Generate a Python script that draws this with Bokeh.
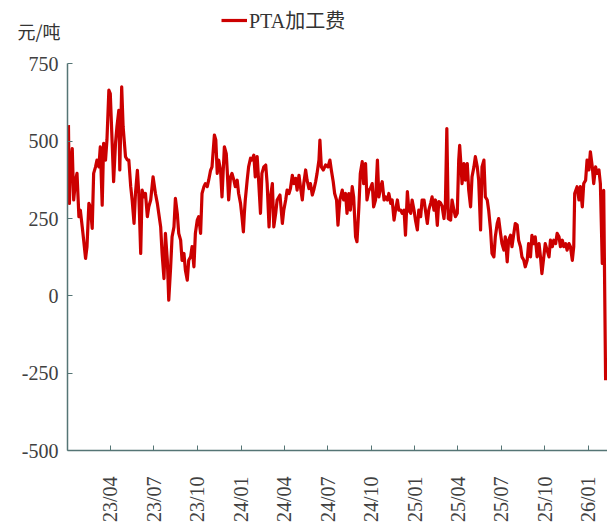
import math
import numpy as np
import pandas as pd
from bokeh.plotting import figure
from bokeh.models import (FixedTicker, DatetimeTickFormatter, Legend, LegendItem, Range1d,
                          LinearAxis)
from bokeh.embed import file_html
from bokeh.resources import INLINE

# ---------------- data ----------------
series_name = "PTA加工费"
unit_label = "元/吨"
start_date = "2023-01-03"

day_offsets = [
    0, 2, 4, 8, 11, 15, 18, 22, 25, 29, 32, 36, 39, 43, 46, 50, 53, 57, 60, 64,
    67, 71, 74, 78, 81, 85, 88, 92, 95, 99, 102, 106, 108, 112, 115, 120, 124, 127, 131, 134,
    138, 141, 145, 148, 152, 155, 159, 162, 166, 169, 173, 178, 183, 187, 190, 194, 197, 201, 204, 208,
    211, 215, 218, 222, 225, 229, 232, 236, 239, 243, 246, 250, 253, 257, 260, 264, 267, 271, 274, 278,
    281, 285, 288, 292, 295, 299, 302, 307, 310, 313, 316, 320, 323, 328, 332, 334, 337, 341, 344, 348,
    351, 355, 358, 362, 365, 368, 370, 372, 376, 379, 383, 386, 390, 393, 397, 400, 404, 407, 411, 415,
    418, 422, 425, 429, 432, 436, 439, 445, 450, 453, 457, 460, 464, 467, 471, 474, 478, 481, 485, 488,
    492, 495, 499, 502, 506, 509, 513, 516, 520, 523, 527, 529, 532, 536, 541, 546, 550, 553, 557, 560,
    564, 567, 571, 576, 579, 583, 586, 590, 593, 597, 600, 604, 607, 611, 614, 618, 621, 625, 628, 632,
    635, 639, 642, 646, 650, 653, 657, 660, 664, 667, 671, 674, 678, 681, 685, 688, 692, 695, 699, 702,
    706, 709, 713, 716, 720, 723, 727, 730, 734, 737, 741, 744, 748, 751, 755, 758, 762, 765, 769, 772,
    776, 779, 783, 786, 790, 793, 796, 799, 804, 807, 811, 814, 818, 821, 823, 826, 828, 832, 835, 839,
    842, 846, 849, 853, 856, 860, 863, 867, 870, 874, 877, 881, 884, 888, 891, 895, 898, 902, 905, 909,
    912, 916, 919, 923, 926, 930, 933, 937, 940, 944, 947, 951, 954, 958, 961, 965, 968, 972, 975, 979,
    982, 986, 990, 993, 996, 1000, 1003, 1007, 1011, 1014, 1018, 1021, 1025, 1028, 1032, 1035, 1039, 1042, 1046, 1049,
    1053, 1056, 1060, 1063, 1065, 1070, 1074, 1077, 1081, 1084, 1088, 1091, 1095, 1098, 1102, 1105, 1109, 1112, 1116, 1119,
    1123, 1126, 1130,
]

pta_fee = [
    552, 299, 406, 476, 310, 374, 396, 256, 277, 223, 180, 121, 159, 299, 288, 218, 396, 417, 439, 417,
    482, 293, 493, 439, 504, 665, 654, 493, 369, 493, 547, 600, 407, 676, 547, 450, 439, 439, 353, 310,
    234, 331, 406, 331, 137, 342, 320, 331, 256, 288, 310, 385, 331, 299, 266, 223, 137, 56, 202, 115,
    -14, 94, 191, 223, 315, 266, 202, 180, 115, 137, 83, 51, 115, 126, 159, 94, 202, 245, 256, 202,
    331, 353, 363, 353, 374, 406, 417, 520, 504, 396, 439, 406, 320, 482, 460, 406, 310, 385, 396, 374,
    353, 374, 331, 299, 256, 207, 266, 310, 374, 417, 445, 439, 455, 385, 450, 374, 267, 396, 417, 423,
    363, 223, 320, 363, 223, 267, 310, 326, 234, 277, 310, 342, 331, 347, 390, 363, 380, 342, 390, 353,
    310, 363, 407, 374, 347, 363, 326, 342, 369, 396, 439, 504, 417, 407, 423, 417, 439, 407, 369, 331,
    310, 229, 310, 342, 310, 331, 267, 331, 277, 353, 320, 191, 175, 288, 396, 434, 363, 428, 310, 342,
    347, 363, 288, 310, 439, 320, 353, 369, 310, 320, 310, 331, 299, 310, 245, 277, 310, 277, 277, 267,
    277, 196, 337, 277, 267, 310, 277, 245, 213, 277, 256, 310, 310, 277, 234, 277, 300, 320, 277, 310,
    228, 305, 300, 290, 250, 300, 541, 250, 245, 310, 277, 256, 267, 439, 487, 417, 363, 428, 374, 428,
    342, 288, 385, 417, 450, 417, 374, 213, 417, 439, 320, 310, 277, 213, 137, 126, 191, 234, 250, 202,
    169, 148, 191, 110, 180, 196, 159, 202, 234, 229, 180, 159, 126, 115, 94, 115, 169, 126, 196, 169,
    191, 126, 169, 126, 72, 126, 169, 148, 126, 180, 159, 180, 169, 202, 191, 159, 180, 159, 169, 148,
    169, 159, 115, 159, 331, 353, 310, 353, 288, 363, 374, 439, 407, 466, 417, 363, 417, 396, 407, 363,
    105, 341, -273,
]

x_tick_dates = ["2023-04-01", "2023-07-01", "2023-10-01", "2024-01-01", "2024-04-01", "2024-07-01",
                "2024-10-01", "2025-01-01", "2025-04-01", "2025-07-01", "2025-10-01", "2026-01-01"]
y_ticks = [-500, -250, 0, 250, 500, 750]
y_tick_labels = ["-500", "-250", "0", "250", "500", "750"]
x_start, x_end = "2023-01-01", "2026-02-10"
y_axis_min, y_axis_max = -500, 750

# layout helpers: the plotting area is extended upward so that the legend,
# which sits above the axis top, is drawn inside it (not clipped)
y_view_top = 955          # data value at the very top of the canvas
unit_label_y = 856        # height (in data units) of the unit text

# ---------------- figure ----------------
dates = (np.datetime64(start_date) + np.array(day_offsets, dtype="timedelta64[D]")).astype("datetime64[ms]")

p = figure(width=607, height=525, x_axis_type="datetime", title=None,
           x_range=Range1d(pd.Timestamp(x_start), pd.Timestamp(x_end)),
           y_range=Range1d(y_axis_min, y_view_top),
           output_backend="svg", toolbar_location=None,
           min_border_left=67, min_border_right=0, min_border_top=0, min_border_bottom=75)
p.outline_line_color = None
p.xgrid.visible = False
p.ygrid.visible = False
p.background_fill_color = "white"
p.border_fill_color = "white"

line_color = "#CC0000"
r = p.line(dates, pta_fee, line_color=line_color, line_width=3.2, line_join="round")

axis_color = "#557575"
label_font = "Liberation Serif"

# y axis
p.yaxis.ticker = FixedTicker(ticks=y_ticks)
p.yaxis.major_label_overrides = dict(zip(y_ticks, y_tick_labels))
p.yaxis.bounds = (y_axis_min, y_axis_max)
p.yaxis.axis_line_color = axis_color
p.yaxis.axis_line_width = 1.5
p.yaxis.major_tick_line_color = axis_color
p.yaxis.major_tick_in = 5
p.yaxis.major_tick_out = 0
p.yaxis.minor_tick_line_color = None
p.yaxis.major_label_text_font = label_font
p.yaxis.major_label_text_font_size = "20px"
p.yaxis.major_label_text_color = "#404040"
p.yaxis.major_label_standoff = 9

# unit text at the top-left, drawn as a label-only axis
unit_axis = LinearAxis(ticker=FixedTicker(ticks=[unit_label_y]),
                       major_label_overrides={unit_label_y: unit_label},
                       axis_line_color=None, major_tick_line_color=None,
                       minor_tick_line_color=None, major_label_standoff=-48,
                       major_label_text_font="Noto Sans CJK SC",
                       major_label_text_font_size="18px",
                       major_label_text_color="#333333")
p.add_layout(unit_axis, "left")

# x axis
tick_ms = [pd.Timestamp(d).value // 10**6 for d in x_tick_dates]
p.xaxis.ticker = FixedTicker(ticks=tick_ms)
fmt = "%y/%m"
p.xaxis.formatter = DatetimeTickFormatter(days=fmt, months=fmt, years=fmt, hours=fmt,
                                          strip_leading_zeros=False)
p.xaxis.axis_line_color = axis_color
p.xaxis.axis_line_width = 1.5
p.xaxis.major_tick_line_color = axis_color
p.xaxis.major_tick_in = 5
p.xaxis.major_tick_out = 0
p.xaxis.minor_tick_line_color = None
p.xaxis.major_label_orientation = math.pi / 2
p.xaxis.major_label_text_font = label_font
p.xaxis.major_label_text_font_size = "20px"
p.xaxis.major_label_text_color = "#404040"
p.xaxis.major_label_standoff = 26

# legend, top centre
legend = Legend(items=[LegendItem(label=series_name, renderers=[r])],
                location=(154, 416), orientation="horizontal",
                label_text_font="'Liberation Serif', 'Noto Sans CJK SC'",
                label_text_font_size="20px", label_text_color="#333333",
                glyph_width=26, glyph_height=20, label_height=20, label_standoff=2,
                padding=0, margin=0, border_line_color=None, background_fill_alpha=0)
p.add_layout(legend)

open("out.html", "w").write(file_html(p, INLINE))
